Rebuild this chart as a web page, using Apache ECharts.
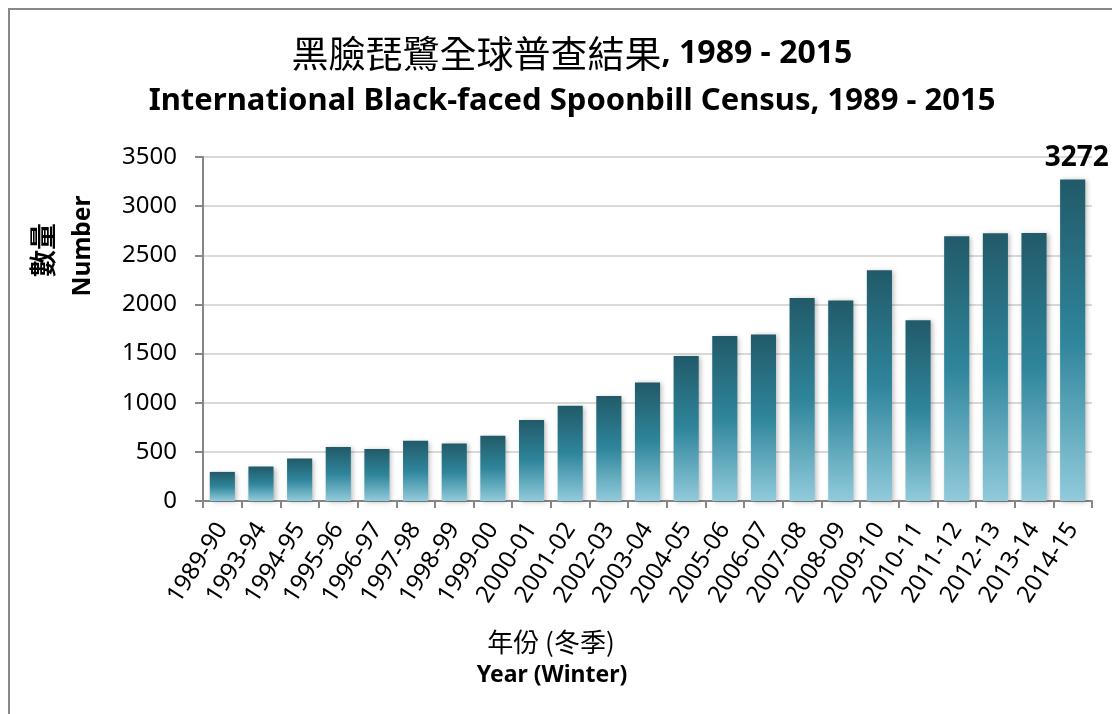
<!DOCTYPE html>
<html>
<head>
<meta charset="utf-8">
<script src="https://cdn.jsdelivr.net/npm/echarts@6/dist/echarts.min.js"></script>
<style>
html,body{margin:0;padding:0;background:#fff;}
#chart{width:1112px;height:714px;}
</style>
</head>
<body>
<div id="chart"></div>
<script>
var categories = ['1989-90','1993-94','1994-95','1995-96','1996-97','1997-98','1998-99','1999-00','2000-01','2001-02','2002-03','2003-04','2004-05','2005-06','2006-07','2007-08','2008-09','2009-10','2010-11','2011-12','2012-13','2013-14','2014-15'];
var counts = [296, 351, 432, 549, 529, 613, 586, 664, 824, 969, 1069, 1206, 1475, 1679, 1695, 2065, 2041, 2347, 1839, 2693, 2725, 2726, 3272];
var yTicks = [0, 500, 3500];

var CJK = '"Noto Sans CJK TC", "Noto Sans", sans-serif';
var LAT = '"Noto Sans", "Open Sans", sans-serif';

var chart = echarts.init(document.getElementById('chart'));
var lastIdx = counts.length - 1;

var option = {
  backgroundColor: '#ffffff',
  animation: false,
  title: [
    {
      text: '{c|黑臉琵鷺全球普查結果}{b|, 1989 - 2015}',
      left: 567,
      textAlign: 'center',
      top: 30,
      textStyle: {
        rich: {
          c: {fontFamily: CJK, fontSize: 37, fontWeight: 'normal', color: '#000'},
          b: {fontFamily: LAT, fontSize: 32, fontWeight: 'bold', color: '#000'}
        }
      }
    },
    {
      text: 'International Black-faced Spoonbill Census, 1989 - 2015',
      left: 567,
      textAlign: 'center',
      top: 81,
      textStyle: {fontFamily: LAT, fontSize: 31, fontWeight: 'bold', color: '#000'}
    }
  ],
  grid: {left: 203, right: 20, top: 157, bottom: 213, containLabel: false},
  xAxis: {
    type: 'category',
    data: categories,
    axisLine: {lineStyle: {color: '#868686', width: 2}},
    axisTick: {show: true, length: 7, lineStyle: {color: '#868686', width: 2}},
    axisLabel: {
      rotate: 57,
      interval: 0,
      margin: 24,
      fontFamily: LAT,
      fontSize: 24,
      color: '#000'
    }
  },
  yAxis: {
    type: 'value',
    min: yTicks[0],
    max: yTicks[2],
    interval: yTicks[1],
    axisLine: {show: true, lineStyle: {color: '#868686', width: 2}},
    axisTick: {show: true, length: 8, lineStyle: {color: '#868686', width: 2}},
    axisLabel: {fontFamily: LAT, fontSize: 24, color: '#000', margin: 26, formatter: function (v) { return String(v); }},
    splitLine: {lineStyle: {color: '#d9d9d9', width: 2}}
  },
  graphic: [
    {
      type: 'rect',
      shape: {x: 9, y: 9, width: 1200, height: 800},
      style: {fill: 'none', stroke: '#888888', lineWidth: 2},
      silent: true
    },
    {
      type: 'text',
      x: 43, y: 250,
      rotation: Math.PI / 2,
      style: {text: '數量', fontFamily: CJK, fontSize: 27, fontWeight: 'bold', fill: '#000', align: 'center', verticalAlign: 'middle'}
    },
    {
      type: 'text',
      x: 83, y: 246,
      rotation: Math.PI / 2,
      style: {text: 'Number', fontFamily: LAT, fontSize: 24.5, fontWeight: 'bold', fill: '#000', align: 'center', verticalAlign: 'middle'}
    },
    {
      type: 'text',
      x: 551, y: 642,
      style: {text: '年份 (冬季)', fontFamily: CJK, fontSize: 26, fill: '#000', align: 'center', verticalAlign: 'middle'}
    },
    {
      type: 'text',
      x: 552, y: 675,
      style: {text: 'Year (Winter)', fontFamily: LAT, fontSize: 23, fontWeight: 'bold', fill: '#000', align: 'center', verticalAlign: 'middle'}
    }
  ],
  series: [{
    type: 'bar',
    data: counts.map(function (v, i) {
      var d = {value: v};
      if (i === lastIdx) {
        d.label = {
          show: true,
          position: 'top',
          distance: 7,
          offset: [4, 0],
          fontFamily: LAT,
          fontSize: 28,
          fontWeight: 'bold',
          color: '#000'
        };
      }
      return d;
    }),
    barCategoryGap: '35%',
    itemStyle: {
      color: new echarts.graphic.LinearGradient(0, 0, 0, 1, [
        {offset: 0, color: '#215a69'},
        {offset: 0.5, color: '#2f859b'},
        {offset: 1, color: '#91cbdc'}
      ]),
      shadowBlur: 5,
      shadowColor: 'rgba(0,0,0,0.28)',
      shadowOffsetX: 2,
      shadowOffsetY: 1
    }
  }]
};
chart.setOption(option);
</script>
</body>
</html>
